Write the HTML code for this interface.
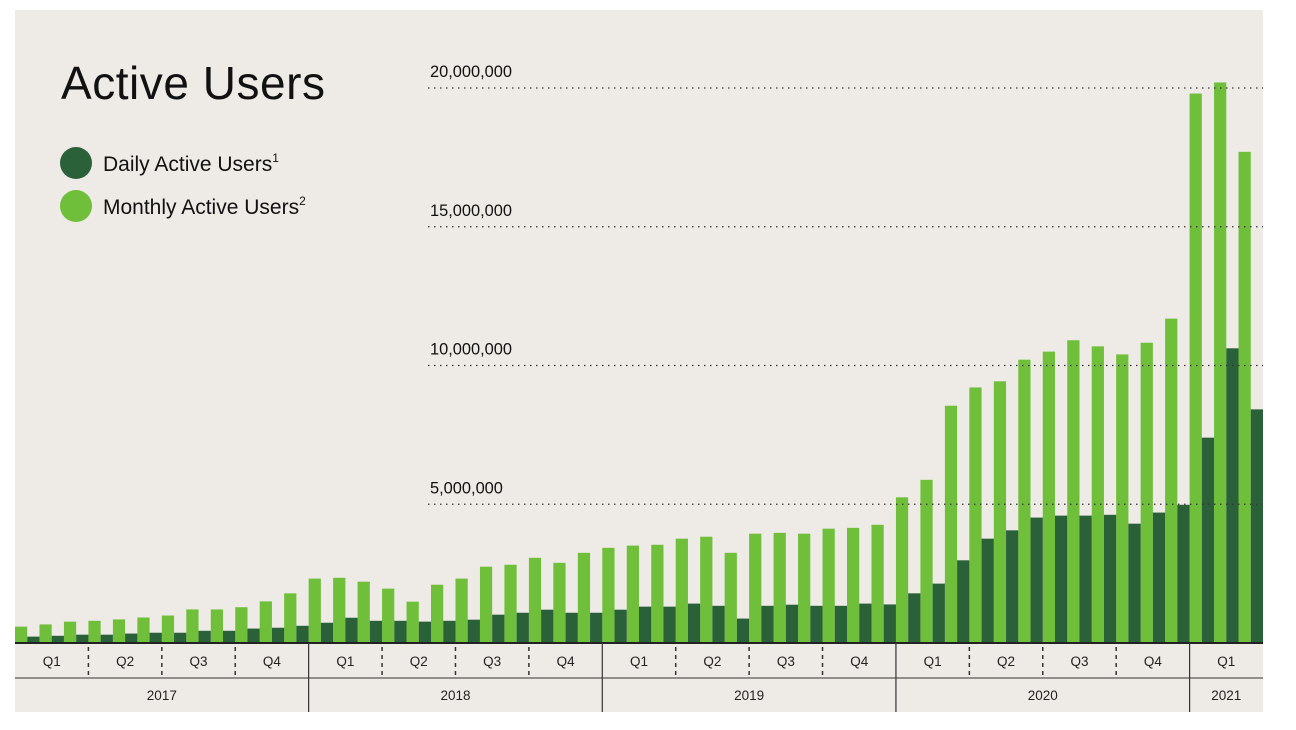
<!DOCTYPE html>
<html><head><meta charset="utf-8"><style>
html,body{margin:0;padding:0;background:#fff;}
svg{display:block;font-family:"Liberation Sans",sans-serif;}
</style></head><body>
<svg id="chart" width="1296" height="730">
<rect x="15" y="10" width="1248" height="702" fill="#eeebe6"/>
<text x="61" y="99" font-size="46" fill="#111" textLength="264">Active Users</text>
<g>
<g><circle cx="76" cy="163" r="16" fill="#2a6139"/><text x="103" y="171" font-size="21" fill="#111">Daily Active Users<tspan font-size="12" dy="-9">1</tspan></text></g>
<g><circle cx="76" cy="206" r="16" fill="#6fbf3b"/><text x="103" y="214" font-size="21" fill="#111">Monthly Active Users<tspan font-size="12" dy="-9">2</tspan></text></g>
</g>
<g id="bars"></g>
<g id="grid"></g>
<g id="axis"></g>
</svg>
<script>
const years = ["2017","2018","2019","2020","2021"];
const quarters = ["Q1","Q2","Q3","Q4"];
const yTicks = [5, 10, 15, 20];
const yTickLabels = ["5,000,000","10,000,000","15,000,000","20,000,000"];
const mau = [0.59,0.67,0.77,0.80,0.85,0.92,0.99,1.21,1.21,1.29,1.50,1.79,
 2.32,2.35,2.21,1.96,1.49,2.10,2.32,2.75,2.82,3.07,2.89,3.25,
 3.43,3.51,3.54,3.76,3.83,3.25,3.94,3.97,3.94,4.12,4.15,4.26,
 5.25,5.88,8.55,9.21,9.43,10.21,10.50,10.91,10.69,10.40,10.82,11.69,
 19.8,20.2,17.7];
const dau = [0.23,0.26,0.30,0.30,0.34,0.37,0.37,0.44,0.44,0.52,0.55,0.62,
 0.73,0.91,0.80,0.80,0.77,0.80,0.84,1.02,1.09,1.20,1.09,1.09,
 1.20,1.31,1.31,1.42,1.34,0.88,1.34,1.38,1.34,1.34,1.42,1.39,
 1.79,2.14,2.98,3.76,4.06,4.52,4.59,4.59,4.62,4.30,4.70,4.98,
 7.40,10.62,8.42];
const NS="http://www.w3.org/2000/svg";
const x0=15, slot=1248/51, base=643, pxPerM=27.75;
const xs=i=>x0+i*slot;
const ys=v=>base-v*pxPerM;
function mk(tag,attrs,parent){const e=document.createElementNS(NS,tag);for(const k in attrs)e.setAttribute(k,attrs[k]);parent.appendChild(e);return e;}
const bars=document.getElementById('bars');
mau.forEach((v,i)=>{
 const r=mk('rect',{x:xs(i),y:ys(v),width:slot/2,height:base-ys(v),fill:'#6fbf3b'},bars);
 
 
});
dau.forEach((v,i)=>{
 const r=mk('rect',{x:xs(i)+slot/2,y:ys(v),width:slot/2,height:base-ys(v),fill:'#2a6139'},bars);
 
 
});
const grid=document.getElementById('grid');
yTicks.forEach((t,i)=>{
 const l=mk('line',{x1:428,x2:1263,y1:ys(t),y2:ys(t),stroke:'#333','stroke-width':1.2,'stroke-dasharray':'1.5 4.5'},grid);
 
 
 const tx=mk('text',{x:430,y:ys(t)-11,'font-size':16.4,fill:'#111'},grid);
 tx.textContent=yTickLabels[i];
 
 
});
const axis=document.getElementById('axis');
mk('line',{x1:15,x2:1263,y1:base,y2:base,stroke:'#222','stroke-width':2},axis);
mk('line',{x1:15,x2:1263,y1:678,y2:678,stroke:'#333','stroke-width':1},axis);
const nMonths=mau.length;
for(let q=0;q*3<nMonths;q++){
 const xa=xs(q*3), xb=xs(Math.min(q*3+3,nMonths));
 const ql=mk('text',{x:(xa+xb)/2,y:666,'font-size':13.5,'text-anchor':'middle',fill:'#222'},axis);
 ql.textContent=quarters[q%4];
 
 
 if(q>0){
  if(q%4===0) mk('line',{x1:xa,x2:xa,y1:base,y2:712,stroke:'#333','stroke-width':1.2},axis);
  else mk('line',{x1:xa,x2:xa,y1:base+4,y2:678,stroke:'#333','stroke-width':1.5,'stroke-dasharray':'4 4'},axis);
 }
}
years.forEach((y,i)=>{
 const xa=xs(i*12), xb=xs(Math.min(i*12+12,nMonths));
 const yl=mk('text',{x:(xa+xb)/2,y:700,'font-size':13.5,'text-anchor':'middle',fill:'#222'},axis);
 yl.textContent=y;
 
 
});
</script>
</body></html>
